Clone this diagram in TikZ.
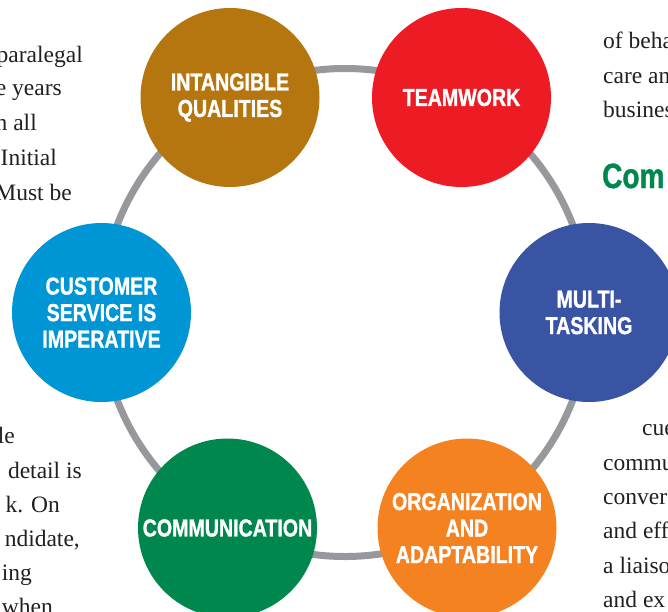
\documentclass[tikz,border=0pt]{standalone}
\usepackage{fontspec}
\setmainfont{Liberation Serif}
\newfontfamily\condfont[FakeStretch=0.8,BoldFeatures={FakeBold=1.2}]{Liberation Sans}

\definecolor{brownc}{HTML}{B57610}
\definecolor{redc}{HTML}{ED1C24}
\definecolor{bluec}{HTML}{3A54A4}
\definecolor{orangec}{HTML}{F58220}
\definecolor{greenc}{HTML}{00874D}
\definecolor{cyanc}{HTML}{0095D5}
\definecolor{ringgray}{HTML}{97989C}
\definecolor{inkblack}{HTML}{231F20}

\begin{document}
\begin{tikzpicture}[x=1pt,y=-1pt,
    skill/.style={circle, minimum size=179pt, inner sep=0pt, text=white, align=center,
      font=\condfont\bfseries\fontsize{24.5}{26.5}\selectfont},
    ring/.style={draw=ringgray, line width=7pt},
    bodyl/.style={anchor=base east, inner sep=0pt, text=inkblack, font=\fontsize{23.5}{34.5}\selectfont},
    bodyr/.style={anchor=base west, inner sep=0pt, text=inkblack, font=\fontsize{23.5}{34.5}\selectfont}]
  \useasboundingbox (0,0) rectangle (668,611);
  \clip (0,0) rectangle (668,611);

  % text of the page around the wheel
  \node [bodyl] (l1) at (83,62) {paralegal};
  \node [bodyl] (l2) at (62,95) {e years};
  \node [bodyl] (l3) at (37,130) {n all};
  \node [bodyl] (l4) at (57,165) {Initial};
  \node [bodyl] (l5) at (72,200) {Must be};
  \node [bodyl] (l6) at (15,443) {le};
  \node [bodyl] (l7) at (82,478) {detail is};
  \node [bodyl] (l8) at (60,512) {k. On};
  \node [bodyl] (l9) at (80,546) {ndidate,};
  \node [bodyl] (l10) at (32,580) {ing};
  \node [bodyl] (l11) at (53,614) {when};

  \node [bodyr] (r1) at (603,48) {of beha};
  \node [bodyr] (r2) at (603,83) {care an};
  \node [bodyr] (r3) at (603,117) {busines};
  \node [bodyr, text=greenc, font=\condfont\bfseries\fontsize{35}{35}\selectfont] (head) at (602,188) {Com};
  \node [bodyr] (r4) at (642,435) {cue};
  \node [bodyr] (r5) at (603,470) {commu};
  \node [bodyr] (r6) at (603,504) {convers};
  \node [bodyr] (r7) at (603,538) {and effi};
  \node [bodyr] (r8) at (603,573) {a liaison};
  \node [bodyr] (r9) at (603,607) {and ex};

  % the wheel
  \coordinate (hub) at (345,312.5);
  \draw [ring] (hub) circle [radius=244];

  \node [skill, fill=brownc]  (intangible) at (230,97.5)  {INTANGIBLE\\QUALITIES};
  \node [skill, fill=redc]    (teamwork)   at (461.5,97.5) {TEAMWORK};
  \node [skill, fill=bluec]   (multi)      at (589,312.5) {MULTI-\\TASKING};
  \node [skill, fill=orangec] (organize)   at (467,528)   {ORGANIZATION\\AND\\ADAPTABILITY};
  \node [skill, fill=greenc]  (communicate) at (227.5,528) {COMMUNICATION};
  \node [skill, fill=cyanc]   (customer)   at (101.5,312.5) {CUSTOMER\\SERVICE IS\\IMPERATIVE};
\end{tikzpicture}
\end{document}
